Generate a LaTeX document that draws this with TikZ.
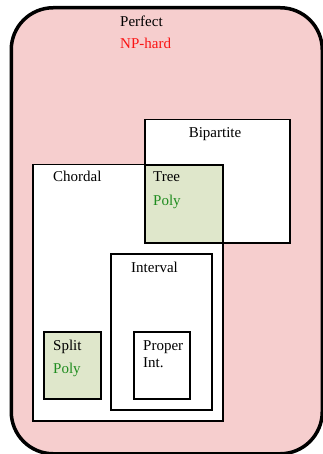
\documentclass[tikz,border=0pt]{standalone}
\usepackage{fontspec}
\setmainfont{Liberation Serif}
\definecolor{perfectfill}{RGB}{246,206,206}
\definecolor{polyfill}{RGB}{223,231,203}
\definecolor{polytext}{RGB}{30,140,30}
\definecolor{hardtext}{RGB}{250,20,20}
\begin{document}
\begin{tikzpicture}[x=1pt,y=-1pt,
  region/.style={draw=black,line width=1.5pt,fill=white,inner sep=0pt,anchor=north west},
  polyregion/.style={region,fill=polyfill,line width=2pt},
  lbl/.style={anchor=base west,inner sep=0pt,font=\fontsize{15}{17}\selectfont},
  poly/.style={lbl,text=polytext},
]
\useasboundingbox (0,0) rectangle (322,454);
% outer class: perfect graphs
\node[draw=black,line width=3.5pt,fill=perfectfill,rounded corners=42pt,
      minimum width=311pt,minimum height=446pt,inner sep=0pt,anchor=north west]
      (perfect) at (9.5,6) {};
\node[lbl] (perfectlbl) at (120,27) {Perfect};
\node[lbl,text=hardtext] (hardlbl) at (120,49) {NP-hard};
% bipartite
\node[region,minimum width=145pt,minimum height=123pt] (bip) at (144,119) {};
\node[lbl,anchor=base] (biplbl) at (215,138) {Bipartite};
% chordal
\node[region,minimum width=190pt,minimum height=256pt] (chordal) at (32,164) {};
\node[lbl] (chordallbl) at (53,182) {Chordal};
% tree (bipartite and chordal)
\node[polyregion,minimum width=78pt,minimum height=78pt] (tree) at (144,164) {};
\node[lbl] (treelbl) at (153,182) {Tree};
\node[poly] (treepoly) at (153,205) {Poly};
% interval
\node[region,minimum width=101pt,minimum height=156pt] (interval) at (110,253) {};
\node[lbl] (intervallbl) at (131,272) {Interval};
% proper interval
\node[region,line width=2pt,minimum width=56pt,minimum height=67pt] (proper) at (133,331) {};
\node[lbl] (properlbl) at (143,350) {Proper};
\node[lbl] (intlbl) at (143,367) {Int.};
% split
\node[polyregion,minimum width=57pt,minimum height=67pt] (split) at (43,331) {};
\node[lbl] (splitlbl) at (53,350) {Split};
\node[poly] (splitpoly) at (53,373) {Poly};
\end{tikzpicture}
\end{document}
